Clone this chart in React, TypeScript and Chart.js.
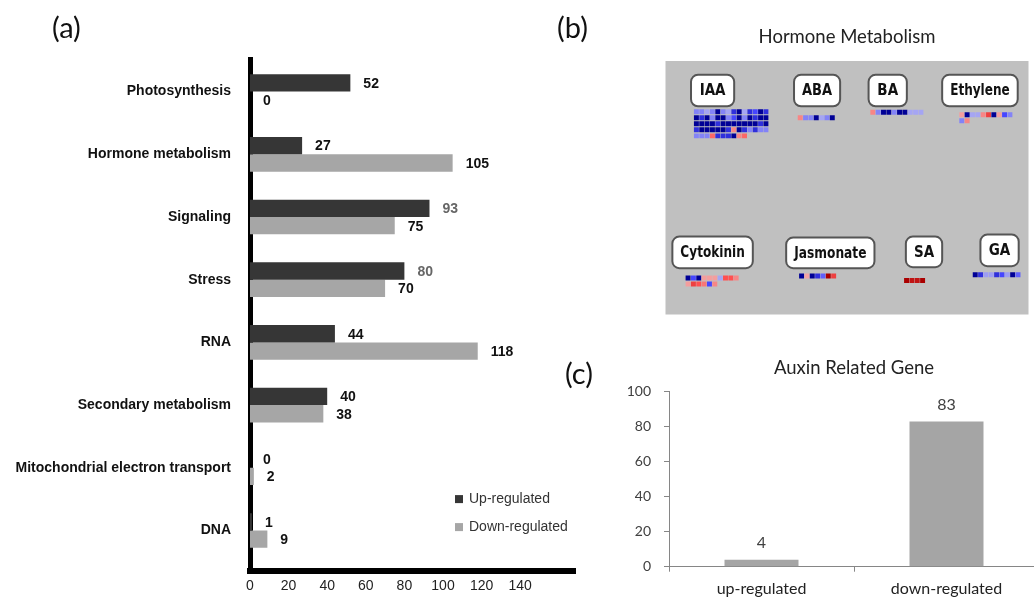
import React, { useEffect, useRef } from 'react';
import { Chart, registerables } from 'chart.js';

Chart.register(...registerables);

// ---------- (a) functional categories ----------
const categories = [
  'Photosynthesis',
  'Hormone metabolism',
  'Signaling',
  'Stress',
  'RNA',
  'Secondary metabolism',
  'Mitochondrial electron transport',
  'DNA',
];
const upRegulated = [52, 27, 93, 80, 44, 40, 0, 1];
const downRegulated = [0, 105, 75, 70, 118, 38, 2, 9];
const seriesNames = ['Up-regulated', 'Down-regulated'];
const xTickValues = [0, 20, 40, 60, 80, 100, 120, 140];

// ---------- (c) auxin related genes ----------
const auxinCategories = ['up-regulated', 'down-regulated'];
const auxinCounts = [4, 83];
const auxinTicks = [0, 20, 40, 60, 80, 100];

// ---------- (b) hormone metabolism cells (negative = blue, positive = red) ----------
const hormoneNames = ['IAA', 'ABA', 'BA', 'Ethylene', 'Cytokinin', 'Jasmonate', 'SA', 'GA'];
const iaaCells = [
  [-0.8, -0.8, -0.4, -0.8, -3, -0.8, -0.4, -2, -3, -0.4, -2, -1.5, -3, -2],
  [-3, -2, -3, -0.8, -3, -3, -0.8, -1.5, -3, -0.8, -3, -2, -3, -3],
  [-3, -3, -3, -3, -2, -3, -3, -3, -3, -3, -3, -3, -2, -3],
  [-2, -3, -3, -3, -3, -3, -2, 0.8, -3, -2, -0.8, -2, -0.8, -0.8],
  [-0.8, -0.8, -0.8, 1.2, -2, -2, -2, -3, 0.8, 1.2],
];
const abaCells = [[0.8, -0.8, -0.8, -3, -0.4, -0.8, -3]];
const baCells = [[0.8, -0.8, -3, -3, -0.8, -3, -3, -0.4, -0.4, -0.4]];
const ethyleneCells = [
  [0.5, -3, -0.4, -0.4, 0.8, 1.8, -3, 0.5, -1.5, -0.8],
  [-0.8, 0.8],
];
const cytokininCells = [
  [-3, -1.5, -3, 0.5, 0.5, 0.5, -0.4, 1.5, 1.5, 0.8],
  [0.5, 1.8, 1.5, 1, -1.5, 0.8],
];
const jasmonateCells = [[-3, 0.4, -3, -2, -1.2, 3, 1.8]];
const saCells = [[3, 2.6, 2.6, 3]];
const gaCells = [[-3, -2, -0.5, -0.5, -2, -1.5, -0.5, -3, -1.2]];
const hormoneCells = [iaaCells, abaCells, baCells, ethyleneCells, cytokininCells, jasmonateCells, saCells, gaCells];

// ---------- layout (page pixel coordinates of panel b) ----------
const panelB = { left: 662, top: 61, right: 1032, bottom: 318 };
const hormoneBoxes = [
  { x: 688, y: 75, w: 44, h: 32 },
  { x: 793, y: 75, w: 47, h: 32 },
  { x: 869, y: 75, w: 39, h: 32 },
  { x: 944, y: 75, w: 77, h: 32 },
  { x: 669, y: 239, w: 82, h: 32 },
  { x: 785, y: 240, w: 90, h: 31 },
  { x: 907, y: 239, w: 37, h: 31 },
  { x: 983, y: 237, w: 39, h: 32 },
];
const cellAnchors = [
  { x: 693.5, y: 112.5 },
  { x: 799.3, y: 118.5 },
  { x: 873.3, y: 113 },
  { x: 964, y: 115.5 },
  { x: 685, y: 281 },
  { x: 800.7, y: 279 },
  { x: 907.7, y: 283.5 },
  { x: 977.7, y: 277.7 },
];
const cellPitchX = 5.45;
const cellPitchY = 6.1;

function cellColor(v: number): string {
  const t = Math.min(1, Math.abs(v) / 3);
  const lerp = (a: number, b: number, u: number) => Math.round(a + (b - a) * u);
  let c: number[];
  if (v < 0) {
    if (t < 0.5) {
      const u = t / 0.5;
      c = [lerp(200, 70, u), lerp(200, 70, u), lerp(238, 255, u)];
    } else {
      const u = (t - 0.5) / 0.5;
      c = [lerp(70, 0, u), lerp(70, 0, u), lerp(255, 150, u)];
    }
  } else {
    if (t < 0.5) {
      const u = t / 0.5;
      c = [lerp(238, 255, u), lerp(195, 80, u), lerp(195, 80, u)];
    } else {
      const u = (t - 0.5) / 0.5;
      c = [lerp(255, 170, u), lerp(80, 0, u), lerp(80, 0, u)];
    }
  }
  return `rgb(${c[0]},${c[1]},${c[2]})`;
}

const UP_COLOR = '#363636';
const DOWN_COLOR = '#a6a6a6';
const labelColorsA = [
  ['#111', '#111', '#666', '#666', '#111', '#111', '#111', '#111'],
  ['#111', '#111', '#111', '#111', '#111', '#111', '#111', '#111'],
];

export default function App() {
  const aRef = useRef<HTMLCanvasElement>(null);
  const bRef = useRef<HTMLCanvasElement>(null);
  const cRef = useRef<HTMLCanvasElement>(null);

  useEffect(() => {
    // ---------------- (a) ----------------
    const valueLabelsA = {
      id: 'valueLabelsA',
      afterDatasetsDraw(chart: any) {
        const ctx = chart.ctx;
        ctx.save();
        ctx.font = 'bold 14px "Liberation Sans", Arial, sans-serif';
        ctx.textAlign = 'left';
        ctx.textBaseline = 'middle';
        chart.data.datasets.forEach((ds: any, di: number) => {
          chart.getDatasetMeta(di).data.forEach((el: any, i: number) => {
            ctx.fillStyle = labelColorsA[di][i];
            ctx.fillText(String(ds.data[i].x), el.x + 13, el.y + 1);
          });
        });
        ctx.restore();
      },
    };
    const legendA = {
      id: 'legendA',
      afterDraw(chart: any) {
        const ctx = chart.ctx;
        const area = chart.chartArea;
        ctx.save();
        ctx.font = '14px "Liberation Sans", Arial, sans-serif';
        ctx.textAlign = 'left';
        ctx.textBaseline = 'middle';
        chart.data.datasets.forEach((ds: any, di: number) => {
          const cy = area.bottom - 71.5 + di * 28;
          const bx = area.left + 205;
          ctx.fillStyle = ds.backgroundColor;
          ctx.fillRect(bx, cy - 4, 8, 8);
          ctx.fillStyle = '#333';
          ctx.fillText(ds.label, bx + 14, cy);
        });
        ctx.restore();
      },
    };
    const chartA = new Chart(aRef.current as HTMLCanvasElement, {
      type: 'bar',
      data: {
        datasets: [
          {
            label: seriesNames[0],
            data: upRegulated.map((v, i) => ({ x: v, y: i })),
            backgroundColor: UP_COLOR,
            categoryPercentage: 0.553,
            barPercentage: 1,
          },
          {
            label: seriesNames[1],
            data: downRegulated.map((v, i) => ({ x: v, y: i })),
            backgroundColor: DOWN_COLOR,
            categoryPercentage: 0.553,
            barPercentage: 1,
          },
        ],
      } as any,
      options: {
        indexAxis: 'y',
        animation: false,
        responsive: false,
        maintainAspectRatio: false,
        layout: { padding: { top: 59, right: 25, left: 0, bottom: 0 } },
        scales: {
          y: {
            type: 'linear',
            reverse: true,
            offset: false,
            min: -0.52,
            max: 7.64,
            z: 1,
            afterBuildTicks: (s: any) => {
              s.ticks = categories.map((_, i) => ({ value: i }));
            },
            afterFit: (s: any) => {
              s.width = 250;
            },
            ticks: {
              autoSkip: false,
              callback: (v: any) => categories[v as number],
              font: { family: '"Liberation Sans", Arial, sans-serif', size: 14, weight: 'bold' },
              color: '#111',
              padding: 19,
            },
            grid: { display: false, drawTicks: false, offset: false },
            border: { display: true, color: '#000', width: 5 },
          },
          x: {
            type: 'linear',
            min: 0,
            max: 168.4,
            z: 1,
            afterBuildTicks: (s: any) => {
              s.ticks = xTickValues.map((v) => ({ value: v }));
            },
            afterFit: (s: any) => {
              s.height = 26.5;
            },
            ticks: {
              autoSkip: false,
              maxRotation: 0,
              font: { family: '"Liberation Sans", Arial, sans-serif', size: 14 },
              color: '#222',
              padding: 7.5,
            },
            grid: { display: false, drawTicks: false },
            border: { display: true, color: '#000', width: 6 },
          },
        },
        plugins: { legend: { display: false }, tooltip: { enabled: false } },
      } as any,
      plugins: [valueLabelsA, legendA],
    });

    // ---------------- (b) ----------------
    const panelBg = {
      id: 'panelBg',
      beforeDatasetsDraw(chart: any) {
        const { ctx, chartArea: a } = chart;
        ctx.save();
        ctx.fillStyle = '#c0c0c0';
        ctx.fillRect(a.left, a.top, a.right - a.left, a.bottom - a.top);
        ctx.restore();
      },
      afterDatasetsDraw(chart: any) {
        const { ctx } = chart;
        const sx = chart.scales.x;
        const sy = chart.scales.y;
        ctx.save();
        hormoneNames.forEach((name, i) => {
          const b = hormoneBoxes[i];
          const x0 = sx.getPixelForValue(b.x);
          const x1 = sx.getPixelForValue(b.x + b.w);
          const y0 = sy.getPixelForValue(b.y);
          const y1 = sy.getPixelForValue(b.y + b.h);
          ctx.beginPath();
          ctx.roundRect(x0, y0, x1 - x0, y1 - y0, 7);
          ctx.fillStyle = '#ffffff';
          ctx.fill();
          ctx.lineWidth = 2;
          ctx.strokeStyle = '#555';
          ctx.stroke();
          ctx.font = 'bold 15px "Liberation Sans Narrow", "DejaVu Sans Condensed", "Liberation Sans", sans-serif';
          ctx.fillStyle = '#111';
          ctx.textAlign = 'center';
          ctx.textBaseline = 'middle';
          const maxW = (x1 - x0) - 16;
          const w = ctx.measureText(name).width;
          const k = w > maxW ? maxW / w : 1;
          ctx.save();
          ctx.translate((x0 + x1) / 2, (y0 + y1) / 2 + 1);
          ctx.scale(k, 1);
          ctx.fillText(name, 0, 0);
          ctx.restore();
        });
        ctx.restore();
      },
    };
    const chartB = new Chart(bRef.current as HTMLCanvasElement, {
      type: 'scatter',
      data: {
        datasets: hormoneNames.map((name, h) => {
          const pts: { x: number; y: number }[] = [];
          const colors: string[] = [];
          hormoneCells[h].forEach((row, r) =>
            row.forEach((v, c) => {
              pts.push({ x: cellAnchors[h].x + c * cellPitchX, y: cellAnchors[h].y + r * cellPitchY });
              colors.push(cellColor(v));
            })
          );
          return {
            label: name,
            data: pts,
            pointBackgroundColor: colors,
            pointBorderWidth: 0,
            pointStyle: 'rect',
            pointRadius: 3.5,
            pointHoverRadius: 3.5,
          };
        }),
      } as any,
      options: {
        animation: false,
        responsive: false,
        maintainAspectRatio: false,
        layout: { padding: 0 },
        scales: {
          x: { type: 'linear', min: panelB.left, max: panelB.right, display: false },
          y: { type: 'linear', min: panelB.top, max: panelB.bottom, reverse: true, display: false },
        },
        plugins: {
          legend: { display: false },
          tooltip: { enabled: false },
          title: {
            display: true,
            text: 'Hormone Metabolism',
            color: '#222',
            font: { family: 'Lato, sans-serif', size: 18.5, weight: 'normal' },
            padding: { top: 5.9, bottom: 12.9 },
          },
        },
      } as any,
      plugins: [panelBg],
    });

    // ---------------- (c) ----------------
    const valueLabelsC = {
      id: 'valueLabelsC',
      afterDatasetsDraw(chart: any) {
        const ctx = chart.ctx;
        ctx.save();
        ctx.font = '16px Lato, sans-serif';
        ctx.fillStyle = '#404040';
        ctx.textAlign = 'center';
        ctx.textBaseline = 'middle';
        chart.getDatasetMeta(0).data.forEach((el: any, i: number) => {
          ctx.fillText(String(chart.data.datasets[0].data[i]), el.x, el.y - 16.5);
        });
        ctx.restore();
      },
    };
    const chartC = new Chart(cRef.current as HTMLCanvasElement, {
      type: 'bar',
      data: {
        labels: auxinCategories,
        datasets: [
          {
            label: 'Auxin Related Gene',
            data: auxinCounts,
            backgroundColor: '#a5a5a5',
            categoryPercentage: 1,
            barPercentage: 0.4,
          },
        ],
      },
      options: {
        animation: false,
        responsive: false,
        maintainAspectRatio: false,
        layout: { padding: { right: 11, left: 0, top: 0, bottom: 0 } },
        scales: {
          y: {
            min: 0,
            max: 100,
            afterBuildTicks: (s: any) => {
              s.ticks = auxinTicks.map((v) => ({ value: v }));
            },
            afterFit: (s: any) => {
              s.width = 59;
            },
            ticks: {
              font: { family: 'Lato, sans-serif', size: 14 },
              color: '#404040',
              padding: 13,
            },
            grid: { drawOnChartArea: false, drawTicks: true, tickLength: 5, color: '#868686' },
            border: { display: true, color: '#868686', width: 1 },
          },
          x: {
            afterFit: (s: any) => {
              s.height = 31.3;
            },
            ticks: {
              font: { family: 'Lato, sans-serif', size: 16 },
              color: '#222',
              padding: 8,
              maxRotation: 0,
            },
            grid: { drawOnChartArea: false, drawTicks: true, tickLength: 5, color: '#868686', offset: true },
            border: { display: true, color: '#868686', width: 1 },
          },
        },
        plugins: {
          legend: { display: false },
          tooltip: { enabled: false },
          title: {
            display: true,
            fullSize: false,
            text: 'Auxin Related Gene',
            color: '#222',
            font: { family: 'Lato, sans-serif', size: 18.5, weight: 'normal' },
            padding: { top: 11.9, bottom: 12.6 },
          },
        },
      } as any,
      plugins: [valueLabelsC],
    });

    return () => {
      chartA.destroy();
      chartB.destroy();
      chartC.destroy();
    };
  }, []);

  const panelLabel: React.CSSProperties = {
    position: 'absolute',
    fontFamily: 'Lato, sans-serif',
    fontSize: 29,
    lineHeight: '34px',
    color: '#111',
  };

  return (
    <div
      style={{
        position: 'absolute',
        left: 0,
        top: 0,
        width: 1034,
        height: 598,
        overflow: 'hidden',
        background: '#ffffff',
      }}
    >
      <canvas ref={aRef} width={600} height={598} style={{ position: 'absolute', left: 0, top: 0 }} />
      <canvas ref={bRef} width={370} height={298} style={{ position: 'absolute', left: 662, top: 20 }} />
      <canvas ref={cRef} width={440} height={253} style={{ position: 'absolute', left: 610, top: 345 }} />
      <div style={{ ...panelLabel, left: 52, top: 10 }}>(a)</div>
      <div style={{ ...panelLabel, left: 557, top: 10 }}>(b)</div>
      <div style={{ ...panelLabel, left: 565, top: 356 }}>(c)</div>
    </div>
  );
}
